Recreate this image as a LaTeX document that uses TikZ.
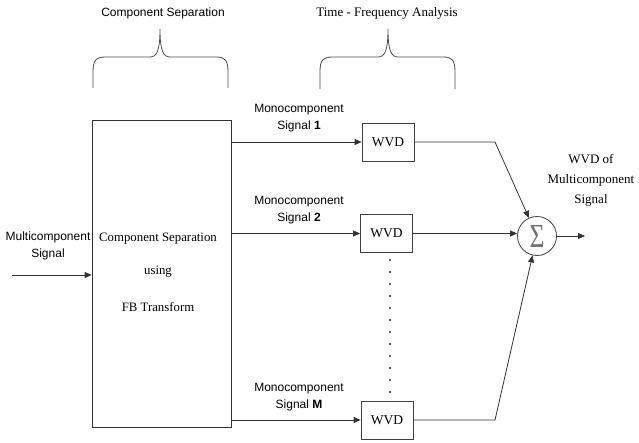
\documentclass[tikz,border=0pt]{standalone}
\usepackage{fontspec}
\setmainfont{Liberation Serif}
\setsansfont{Liberation Sans}
\usetikzlibrary{arrows.meta}
\begin{document}
\begin{tikzpicture}[x=1pt,y=-1pt,
  line/.style={draw=black!80, line width=0.8pt},
  arr/.style={line, -{Triangle[length=7pt,width=6pt]}},
  wvd/.style={draw=black!75, line width=0.8pt, minimum width=52pt, minimum height=38pt, inner sep=0pt, font=\fontsize{13.5}{15}\selectfont},
  sans/.style={font=\sffamily\fontsize{12}{17}\selectfont, align=center, inner sep=0pt},
  serif/.style={font=\fontsize{13}{20}\selectfont, align=center, inner sep=0pt},
  brace/.style={draw=black!70, line width=0.8pt}]
\useasboundingbox (0,0) rectangle (639,442);

% main block
\node[line, minimum width=139pt, minimum height=307pt, inner sep=0pt] (sep) at (161.5,273.5) {};
\node[serif, font=\fontsize{12.8}{15}\selectfont] (septxt) at (158,272) {Component Separation\\[18pt] using\\[22pt] FB Transform};

% WVD blocks
\node[wvd] (w1) at (388,142) {WVD};
\node[wvd] (w2) at (386.5,233.5) {WVD};
\node[wvd] (wm) at (387,420) {WVD};

% dots
\foreach \k in {0,...,11} \fill[black!85] (390,{260+\k*12}) circle (1.1pt);

% summation
\node[draw=black!75, line width=0.8pt, circle, minimum size=39pt, inner sep=0pt] (sum) at (537,236) {\resizebox{15pt}{22pt}{\color{black!55}Σ}};

% coordinates
\coordinate (in) at (12,275);
\coordinate (b1) at (495,142);
\coordinate (bm) at (495,420);
\coordinate (out) at (585,236);

% connectors
\draw[arr] (in) -- (in -| sep.west);
\draw[arr] (sep.east |- w1.west) -- (w1.west);
\draw[arr] (sep.east |- w2.west) -- (w2.west);
\draw[arr] (sep.east |- wm.west) -- (wm.west);
\draw[arr] (w1.east) -- (b1) -- (sum);
\draw[arr] (w2.east) -- (w2.east -| sum.west);
\draw[arr] (wm.east) -- (bm) -- (sum);
\draw[arr] (sum.east) -- (out);

% labels
\node[sans] (l1) at (299,118.5) {Monocomponent\\Signal \textbf{1}};
\node[sans] (l2) at (299,210) {Monocomponent\\Signal \textbf{2}};
\node[sans] (lm) at (299,397) {Monocomponent\\Signal \textbf{M}};
\node[sans] (lin) at (48,246) {Multicomponent\\Signal};
\node[serif] (lout) at (591,180) {WVD of\\Multicomponent\\Signal};

% top titles and braces
\node[sans] (t1) at (163,13) {Component Separation};
\node[serif] (t2) at (387,13) {Time - Frequency Analysis};
\draw[brace] (93,88) -- (93,72) .. controls (93,60) and (96,57) .. (106,57) -- (150,57) .. controls (157,57) and (160,50) .. (160,29) .. controls (160,50) and (163,57) .. (170,57) -- (216,57) .. controls (225,57) and (228,60) .. (228,72) -- (228,88);
\draw[brace] (320,89) -- (320,72) .. controls (320,60) and (323,57) .. (333,57) -- (378,57) .. controls (385,57) and (388,50) .. (388,29) .. controls (388,50) and (391,57) .. (398,57) -- (443,57) .. controls (452,57) and (455,60) .. (455,72) -- (455,89);
\end{tikzpicture}
\end{document}
